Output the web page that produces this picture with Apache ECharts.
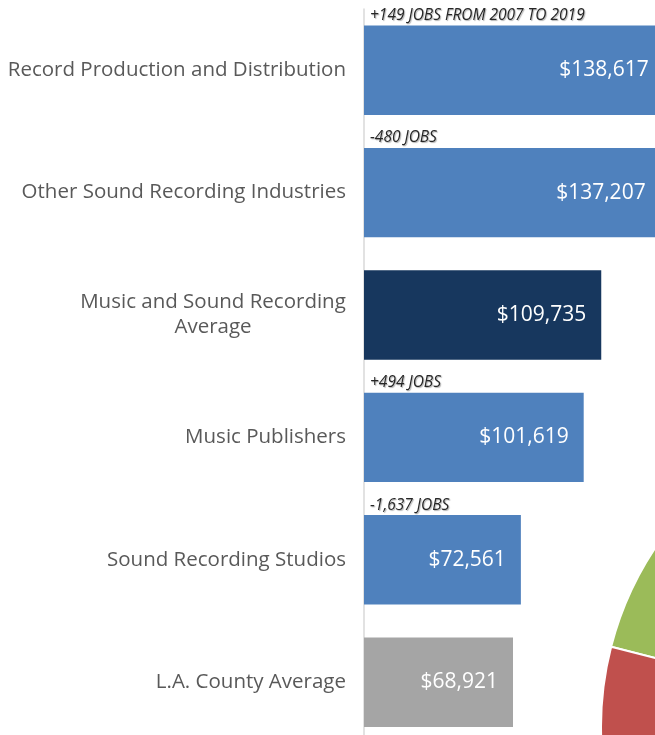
<!DOCTYPE html>
<html>
<head>
<meta charset="utf-8">
<script src="https://cdn.jsdelivr.net/npm/echarts@6/dist/echarts.min.js"></script>
<style>
  html, body { margin: 0; padding: 0; background: #fff; overflow: hidden; }
  /* 容器比窗口大一点：原图的前两根柱子和饼图都被裁掉了 */
  #chart { width: 700px; height: 750px; }
</style>
</head>
<body>
<div id="chart"></div>
<script>
  // 行业类别（从上到下）
  const categories = [
    'Record Production and Distribution',
    'Other Sound Recording Industries',
    'Music and Sound Recording\nAverage',
    'Music Publishers',
    'Sound Recording Studios',
    'L.A. County Average',
  ]
  // 平均工资
  const wages = [138617, 137207, 109735, 101619, 72561, 68921]
  // 2007-2019 岗位变化说明
  const jobNotes = ['+149 JOBS FROM 2007 TO 2019', '-480 JOBS', '', '+494 JOBS', '-1,637 JOBS', '']
  const barColors = ['#4f81bd', '#4f81bd', '#17375e', '#4f81bd', '#4f81bd', '#a5a5a5']
  // 右下角被裁掉的饼图（只露出两块）
  const pieNames = ['Green slice', 'Red slice']
  const pieValues = [55, 45]
  const pieColors = ['#9bbb59', '#c0504d']

  const labelFont = 'Open Sans'
  const labelSize = 20.5

  // 两行标签按第一行宽度居中
  const measure = (text) => {
    const ctx = document.createElement('canvas').getContext('2d')
    ctx.font = labelSize + 'px "' + labelFont + '"'
    return Math.ceil(ctx.measureText(text).width)
  }
  const avgLineWidth = measure('Music and Sound Recording')

  const chart = echarts.init(document.getElementById('chart'))

  const option = {
    animation: false,
    grid: {
      left: 364,
      top: 9,
      width: 300,
      height: 734.4,
    },
    xAxis: {
      type: 'value',
      min: 0,
      max: 138760,
      show: false,
    },
    yAxis: {
      type: 'category',
      inverse: true,
      data: categories,
      axisTick: { show: false },
      axisLine: { lineStyle: { color: '#d9d9d9', width: 1.5 } },
      axisLabel: {
        margin: 18,
        color: '#595959',
        fontFamily: labelFont,
        fontSize: labelSize,
        formatter: (v) => {
          if (v.indexOf('\n') < 0) return v
          return v.split('\n').map((s) => '{c|' + s + '}').join('\n')
        },
        rich: {
          c: { width: avgLineWidth, align: 'center', color: '#595959', fontFamily: labelFont, fontSize: labelSize, lineHeight: 25 },
        },
      },
    },
    series: [
      {
        name: 'Average Wage',
        type: 'bar',
        barCategoryGap: '27%',
        clip: false,
        data: wages.map((v, i) => ({ value: v, itemStyle: { color: barColors[i] } })),
        label: {
          show: true,
          position: 'insideRight',
          distance: 15,
          color: '#fff',
          fontFamily: 'Open Sans',
          fontSize: 21,
          formatter: (p) => '$' + p.value.toLocaleString('en-US'),
        },
      },
      {
        // 透明柱子，只用来放上方的岗位说明
        name: 'Jobs Note',
        type: 'bar',
        barGap: '-100%',
        barCategoryGap: '27%',
        clip: false,
        silent: true,
        itemStyle: { color: 'rgba(0,0,0,0)' },
        data: wages,
        label: {
          show: true,
          position: [6, -10],
          align: 'left',
          verticalAlign: 'middle',
          color: '#262626',
          fontFamily: 'Open Sans',
          fontStyle: 'italic',
          fontSize: 15.5,
          textShadowColor: 'rgba(0,0,0,0.3)',
          textShadowBlur: 1,
          textShadowOffsetX: 1,
          textShadowOffsetY: 1,
          formatter: (p) => jobNotes[p.dataIndex],
        },
        z: 3,
      },
      {
        name: 'Pie',
        type: 'pie',
        center: [924, 727],
        radius: 323,
        startAngle: 165.6,
        clockwise: true,
        label: { show: false },
        labelLine: { show: false },
        silent: true,
        itemStyle: { borderColor: '#fff', borderWidth: 2 },
        data: pieValues.map((v, i) => ({ name: pieNames[i], value: v, itemStyle: { color: pieColors[i] } })),
      },
    ],
  }

  chart.setOption(option)
</script>
</body>
</html>
